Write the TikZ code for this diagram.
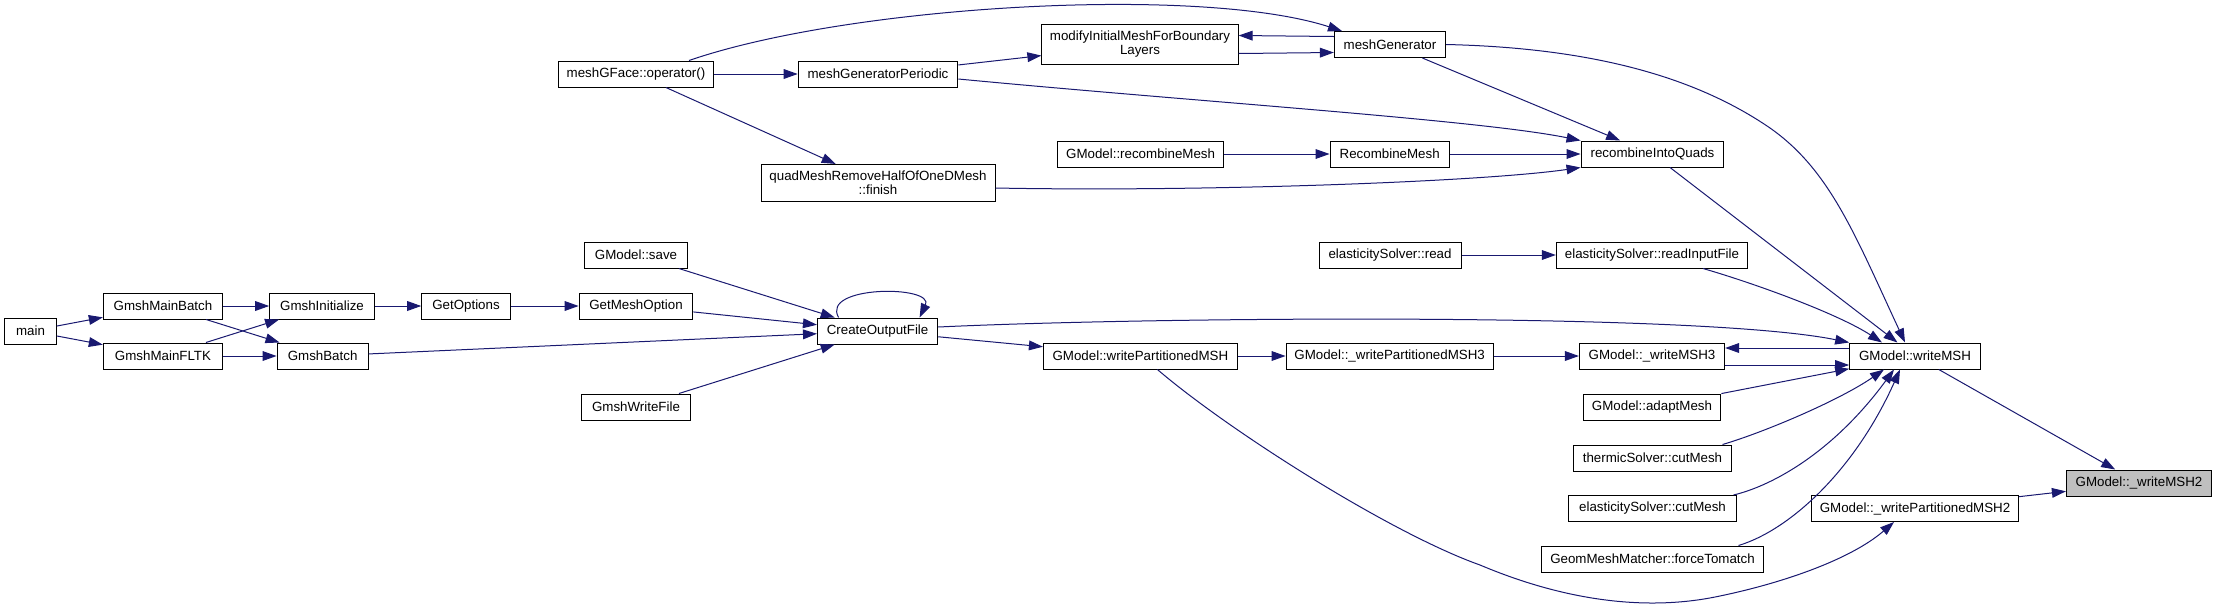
\documentclass[tikz,border=0pt]{standalone}
\usepackage{fontspec}
\setmainfont{Liberation Sans}
\usetikzlibrary{arrows.meta}
\usetikzlibrary{calc}
\definecolor{edgeblue}{HTML}{191970}
\tikzset{
  fn/.style={draw=black, line width=0.75pt, fill=white, inner xsep=2pt, inner ysep=5pt,
    minimum height=19.5pt, align=center, font=\fontsize{10}{10.5}\selectfont},
  call/.style={draw=edgeblue, line width=0.75pt, -{Triangle[length=10.5pt,width=7.3pt]}}
}

\begin{document}
\begin{tikzpicture}[x=0.75pt, y=-0.75pt]
\useasboundingbox (0,0) rectangle (2217,608);
\foreach \nm/\x/\y/\w/\t in {
  main/30.5/331/38.6pt/main,
  gmb/163/306/89.5pt/GmshMainBatch,
  gmf/163/356/89.5pt/GmshMainFLTK,
  gin/322/306/78.5pt/GmshInitialize,
  gba/322.6/356/68.3pt/GmshBatch,
  gop/466/306/66.4pt/GetOptions,
  gmo/636/306/85.3pt/GetMeshOption,
  sav/636/255/76.8pt/GModel::save,
  gwf/636/407/81.4pt/GmshWriteFile,
  opr/636/74/116.4pt/meshGFace::operator(),
  cof/877.6/331/90.2pt/CreateOutputFile,
  mgp/878/74/119.7pt/meshGeneratorPeriodic,
  fin/878/183/175.5pt/{quadMeshRemoveHalfOfOneDMesh\\::finish},
  wpm/1140.4/356/145.5pt/GModel::writePartitionedMSH,
  mib/1140/44.5/147.2pt/{modifyInitialMeshForBoundary\\Layers},
  grm/1140.6/154/124.5pt/GModel::recombineMesh,
  mge/1390/44.5/83.5pt/meshGenerator,
  rcm/1389.7/154/89.5pt/RecombineMesh,
  esr/1390/255/106.5pt/elasticitySolver::read,
  wp3/1389.6/356/155.3pt/GModel::\_writePartitionedMSH3,
  riq/1652.5/154/107.2pt/recombineIntoQuads,
  rif/1652/255/143.5pt/elasticitySolver::readInputFile,
  wm3/1652/356/108.9pt/GModel::\_writeMSH3,
  adm/1652/407/103.3pt/GModel::adaptMesh,
  tcm/1652.5/458/119.2pt/thermicSolver::cutMesh,
  ecm/1652.5/508.5/125.5pt/elasticitySolver::cutMesh,
  ftm/1652.5/559/167.1pt/GeomMeshMatcher::forceTomatch,
  wms/1915/356/98pt/GModel::writeMSH,
  wp2/1915/508.5/155.5pt/GModel::\_writePartitionedMSH2}
{\node[fn, minimum width=\w] (\nm) at (\x,\y) {\t};}
\node[fn, fill=black!25, minimum width=108.9pt] (wm2) at (2139,483) {GModel::\_writeMSH2};

% straight calls
\foreach \a/\b in {main/gmb, main/gmf, gmb/gin, gmb/gba, gmf/gin, gmf/gba, gin/gop, gop/gmo,
  sav/cof, gmo/cof, gba/cof, gwf/cof, cof/wpm, wpm/wp3, wp3/wm3, opr/mgp, opr/fin, mgp/mib,
  grm/rcm, rcm/riq, mge/riq, esr/rif, riq/wms, adm/wms, wms/wm2, wp2/wm2}
{\draw[call] (\a) -- (\b);}

% pairs and bent calls
\draw[call] ($(mge.west)+(0,-8)$) -- ($(mib.east)+(0,-9)$);
\draw[call] ($(mib.east)+(0,9)$) -- ($(mge.west)+(0,8)$);
\draw[call] ($(wms.west)+(0,-8)$) -- ($(wm3.east)+(0,-8)$);
\draw[call] ($(wm3.east)+(0,9)$) -- ($(wms.west)+(0,9)$);
\draw[call] ($(opr.north)+(53,0)$) .. controls (850,5) and (1200,-15) .. ($(mge.north)+(-48,0)$);
\draw[call] ($(mgp.east)+(0,5)$) .. controls (1200,102) and (1480,120) .. (riq.north west);
\draw[call] ($(fin.east)+(0,5)$) .. controls (1200,192) and (1480,182) .. (riq.south west);
\draw[call] (mge.east) .. controls (1600,48) and (1700,80) .. (1770,128)
  .. controls (1830,170) and (1855,235) .. ($(wms.north)+(-10,0)$);
\draw[call] ($(rif.south)+(51,0)$) .. controls (1760,285) and (1840,315) .. ($(wms.north)+(-33,0)$);
\draw[call] ($(cof.east)+(0,-4)$) .. controls (1150,317) and (1700,312) .. (wms.north west);
\draw[call] ($(cof.north)+(-39,0)$) .. controls (820,285) and (935,285) .. ($(cof.north)+(42,0)$);
\draw[call] ($(tcm.north)+(70,0)$) .. controls (1765,432) and (1840,400) .. ($(wms.south)+(-31,0)$);
\draw[call] ($(ecm.north)+(81,0)$) .. controls (1775,485) and (1835,450) .. ($(wms.south)+(-21,0)$);
\draw[call] ($(ftm.north)+(86,0)$) .. controls (1790,530) and (1855,470) .. ($(wms.south)+(-15,0)$);
\draw[call] ($(wpm.south)+(17,0)$) .. controls (1228,430) and (1390,533) .. (1480,565)
  .. controls (1570,603) and (1650,610) .. (1715,597)
  .. controls (1780,584) and (1850,560) .. ($(wp2.south)+(-21,0)$);
\end{tikzpicture}
\end{document}
